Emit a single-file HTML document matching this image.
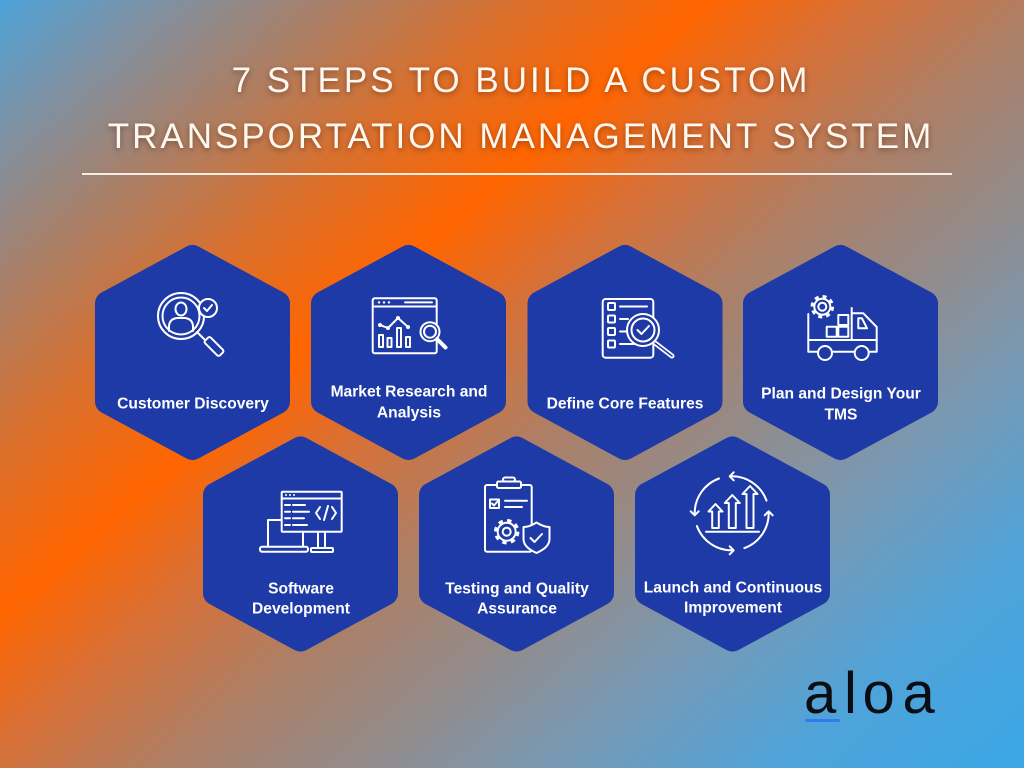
<!DOCTYPE html>
<html>
<head>
<meta charset="utf-8">
<style>
html,body{margin:0;padding:0;}
body{width:1024px;height:768px;overflow:hidden;
background:linear-gradient(139deg,#4da3d9 0%,#7c92a6 8%,#a7806a 17%,#d8702e 27%,#ff6500 37%,#d87036 45%,#ad7f66 55%,#938b8a 65%,#7899b4 75%,#4fa3d9 87%,#3aa7e6 100%);
font-family:"Liberation Sans",sans-serif;}
svg{display:block;position:absolute;left:0;top:0;}
.t{font-family:"Liberation Sans",sans-serif;font-size:35px;fill:#fff8f0;letter-spacing:3px;filter:drop-shadow(0 2px 3px rgba(60,20,0,0.45));}
.l{font-family:"Liberation Sans",sans-serif;font-weight:bold;font-size:15.6px;fill:#ffffff;}
.i{fill:none;stroke:#fff;stroke-width:2;stroke-linecap:round;stroke-linejoin:round;}
.hx{fill:#1e3aa6;stroke:#1e3aa6;stroke-width:25;stroke-linejoin:round;}
</style>
</head>
<body>
<svg width="1024" height="768" viewBox="0 0 1024 768" xmlns="http://www.w3.org/2000/svg">
  <!-- Title -->
  <text class="t" x="521" y="92" text-anchor="middle">7 STEPS TO BUILD A CUSTOM</text>
  <text class="t" x="521" y="148" text-anchor="middle">TRANSPORTATION MANAGEMENT SYSTEM</text>
  <rect x="82" y="173" width="870" height="2" fill="#f5eee6"/>

  <!-- Hexagons -->
  <polygon class="hx" transform="translate(192.5,352.5)" points="0,-95 85,-49 85,49 0,95 -85,49 -85,-49"/>
  <polygon class="hx" transform="translate(408.5,352.5)" points="0,-95 85,-49 85,49 0,95 -85,49 -85,-49"/>
  <polygon class="hx" transform="translate(625,352.5)" points="0,-95 85,-49 85,49 0,95 -85,49 -85,-49"/>
  <polygon class="hx" transform="translate(840.5,352.5)" points="0,-95 85,-49 85,49 0,95 -85,49 -85,-49"/>
  <polygon class="hx" transform="translate(300.5,544)" points="0,-95 85,-49 85,49 0,95 -85,49 -85,-49"/>
  <polygon class="hx" transform="translate(516.5,544)" points="0,-95 85,-49 85,49 0,95 -85,49 -85,-49"/>
  <polygon class="hx" transform="translate(732.5,544)" points="0,-95 85,-49 85,49 0,95 -85,49 -85,-49"/>

  <!-- Labels -->
  <text class="l" x="193" y="408.5" text-anchor="middle">Customer Discovery</text>
  <text class="l" x="409" y="396.5" text-anchor="middle">Market Research and</text>
  <text class="l" x="409" y="417.5" text-anchor="middle">Analysis</text>
  <text class="l" x="625" y="408.5" text-anchor="middle">Define Core Features</text>
  <text class="l" x="841" y="398.5" text-anchor="middle">Plan and Design Your</text>
  <text class="l" x="841" y="419.5" text-anchor="middle">TMS</text>
  <text class="l" x="301" y="593.5" text-anchor="middle">Software</text>
  <text class="l" x="301" y="613.5" text-anchor="middle">Development</text>
  <text class="l" x="517" y="593.5" text-anchor="middle">Testing and Quality</text>
  <text class="l" x="517" y="613.5" text-anchor="middle">Assurance</text>
  <text class="l" x="733" y="592.5" text-anchor="middle">Launch and Continuous</text>
  <text class="l" x="733" y="612.5" text-anchor="middle">Improvement</text>

  <!-- Icon 1: customer discovery -->
  <g class="i">
    <line x1="197" y1="332" x2="204" y2="339"/>
    <rect x="210" y="336" width="8" height="21" rx="2" transform="rotate(-45 214 346.5)"/>
    <circle cx="181" cy="316" r="23"/>
    <circle cx="181" cy="316" r="18.5"/>
    <ellipse cx="181" cy="309" rx="5.5" ry="6.5"/>
    <path d="M169 331 v-4 q0-8 8-9 h8 q8 1 8 9 v4"/>
    <circle cx="208" cy="308" r="9" fill="#1e3aa6"/>
    <path d="M204 308 l3 3 l5 -6"/>
  </g>

  <!-- Icon 2: market research -->
  <g class="i">
    <rect x="372.7" y="298.3" width="64" height="55" rx="2"/>
    <line x1="372.7" y1="306.5" x2="436.7" y2="306.5"/>
    <line x1="405" y1="302.4" x2="432" y2="302.4"/>
    <polyline points="380,325 388,328 398,318 408,327"/>
    <rect x="379" y="335" width="4" height="12"/>
    <rect x="387.5" y="338" width="4" height="9"/>
    <rect x="397" y="328" width="4" height="19"/>
    <rect x="406" y="337" width="4" height="10"/>
    <circle cx="430" cy="331.7" r="9.5" fill="#1e3aa6"/>
    <circle cx="430" cy="331.7" r="6"/>
    <line x1="437" y1="339" x2="445.5" y2="347.5" stroke-width="4"/>
  </g>
  <g fill="#fff">
    <circle cx="379" cy="302.4" r="1.2"/><circle cx="384" cy="302.4" r="1.2"/><circle cx="389" cy="302.4" r="1.2"/>
    <circle cx="380" cy="325" r="2"/><circle cx="388" cy="328" r="2"/><circle cx="398" cy="318" r="2"/><circle cx="408" cy="327" r="2"/>
  </g>

  <!-- Icon 3: define features -->
  <g class="i">
    <rect x="602.7" y="299" width="50.6" height="58.7" rx="3"/>
    <rect x="608" y="303" width="7" height="7" rx="1"/>
    <rect x="608" y="315.5" width="7" height="7" rx="1"/>
    <rect x="608" y="328" width="7" height="7" rx="1"/>
    <rect x="608" y="340.5" width="7" height="7" rx="1"/>
    <line x1="620" y1="306.5" x2="647" y2="306.5"/>
    <line x1="620" y1="319" x2="628" y2="319"/>
    <line x1="620" y1="331.5" x2="626" y2="331.5"/>
    <line x1="620" y1="344" x2="636" y2="344"/>
    <line x1="655" y1="343" x2="672" y2="356" stroke-width="5"/>
    <line x1="655" y1="343" x2="672" y2="356" stroke="#1e3aa6" stroke-width="1.5"/>
    <circle cx="643" cy="330" r="16" fill="#1e3aa6"/>
    <circle cx="643" cy="330" r="11.5"/>
    <path d="M637.5 330 l4 4 l7.5 -8"/>
  </g>

  <!-- Icon 4: truck -->
  <g class="i">
    <line x1="808.3" y1="314" x2="808.3" y2="340"/>
    <rect x="808.3" y="340" width="68.4" height="11.7"/>
    <path d="M851.7 308 V340 M851.7 313.3 H863.3 L876.7 327 V340"/>
    <path d="M858.3 318.3 H862 L867 328.3 H858.3 Z"/>
    <rect x="826.7" y="326.7" width="10" height="10"/>
    <rect x="838.3" y="326.7" width="10" height="10"/>
    <rect x="838.3" y="315" width="10" height="10"/>
    <circle cx="825" cy="353" r="7" fill="#1e3aa6"/>
    <circle cx="861.7" cy="353" r="7" fill="#1e3aa6"/>
    <circle cx="822.3" cy="306.7" r="11" fill="#1e3aa6" stroke="none"/>
    <circle cx="822.3" cy="306.7" r="8"/>
    <circle cx="822.3" cy="306.7" r="10" stroke-width="3.5" stroke-dasharray="3.9 3.95" stroke-linecap="butt"/>
    <circle cx="822.3" cy="306.7" r="4"/>
  </g>

  <!-- Icon 5: software development -->
  <g class="i">
    <rect x="281.7" y="491.7" width="60" height="40" rx="1"/>
    <line x1="281.7" y1="498.5" x2="341.7" y2="498.5"/>
    <path d="M285 505 h5 M293 505 h12 M285 511.7 h5 M293 511.7 h16 M285 518.3 h5 M293 518.3 h11 M285 525 h5 M293 525 h14"/>
    <polyline points="320,507 316,513 320,519"/>
    <polyline points="332,507 336,513 332,519"/>
    <line x1="328" y1="506" x2="324" y2="520"/>
    <line x1="318" y1="531.7" x2="318" y2="548"/>
    <line x1="325" y1="531.7" x2="325" y2="548"/>
    <rect x="311" y="548" width="22" height="4" rx="1"/>
    <path d="M268 546.7 V520 H281.7"/>
    <line x1="303" y1="531.7" x2="303" y2="546.7"/>
    <rect x="260" y="546.7" width="48" height="5" rx="2"/>
  </g>
  <g fill="#fff">
    <circle cx="286" cy="495" r="1"/><circle cx="290" cy="495" r="1"/><circle cx="294" cy="495" r="1"/>
  </g>

  <!-- Icon 6: testing & QA -->
  <g class="i">
    <rect x="485" y="485" width="46.7" height="66.7" rx="2"/>
    <rect x="497" y="481.5" width="24" height="6.5" rx="1.5" fill="#1e3aa6"/>
    <rect x="503" y="477.5" width="12" height="4" rx="2"/>
    <rect x="490" y="499.5" width="9" height="8.5"/>
    <path d="M492 503.5 l2 2 l3.5 -4"/>
    <line x1="505" y1="500.7" x2="527" y2="500.7"/>
    <line x1="505" y1="507" x2="522" y2="507"/>
    <circle cx="506.7" cy="531.7" r="9"/>
    <circle cx="506.7" cy="531.7" r="11" stroke-width="3.5" stroke-dasharray="4.3 4.35" stroke-linecap="butt"/>
    <circle cx="506.7" cy="531.7" r="4"/>
    <path d="M536.5 522.5 C531 526 527 527 523.5 527 V539 C523.5 546 530 550 536.5 553 C543 550 549.5 546 549.5 539 V527 C546 527 542 526 536.5 522.5 Z" fill="#1e3aa6"/>
    <path d="M530.5 538 l4 4 l7.5 -8"/>
  </g>

  <!-- Icon 7: launch & continuous improvement -->
  <g class="i">
    <path d="M744.4 548.1 A37 37 0 0 0 768.7 513.3"/>
    <path d="M766.5 500.6 A37 37 0 0 0 731.7 476.3"/>
    <path d="M719 478.5 A37 37 0 0 0 694.7 513.3"/>
    <path d="M696.9 526 A37 37 0 0 0 731.7 550.3"/>
    <path d="M764.7 515.3 L768.7 511.3 L772.7 515.3"/>
    <path d="M733.7 472.3 L729.7 476.3 L733.7 480.3"/>
    <path d="M690.7 511.3 L694.7 515.3 L698.7 511.3"/>
    <path d="M729.7 546.3 L733.7 550.3 L729.7 554.3"/>
    <path d="M715.5 504 L722.5 511.5 H718.8 V528 H712.2 V511.5 H708.5 Z"/>
    <path d="M732.3 495 L739.8 503 H735.8 V528 H728.8 V503 H724.8 Z"/>
    <path d="M750 486 L757.5 494 H753.5 V528 H746.5 V494 H742.5 Z"/>
    <line x1="706" y1="531.7" x2="759" y2="531.7"/>
  </g>

  <!-- Logo -->
  <text x="804 844 862.5 902.5" y="713" font-family="Liberation Sans, sans-serif" font-size="58" fill="#0b0d14">aloa</text>
  <rect x="805" y="719" width="35" height="3" rx="1.5" fill="#2d7cf0"/>
</svg>
</body>
</html>
